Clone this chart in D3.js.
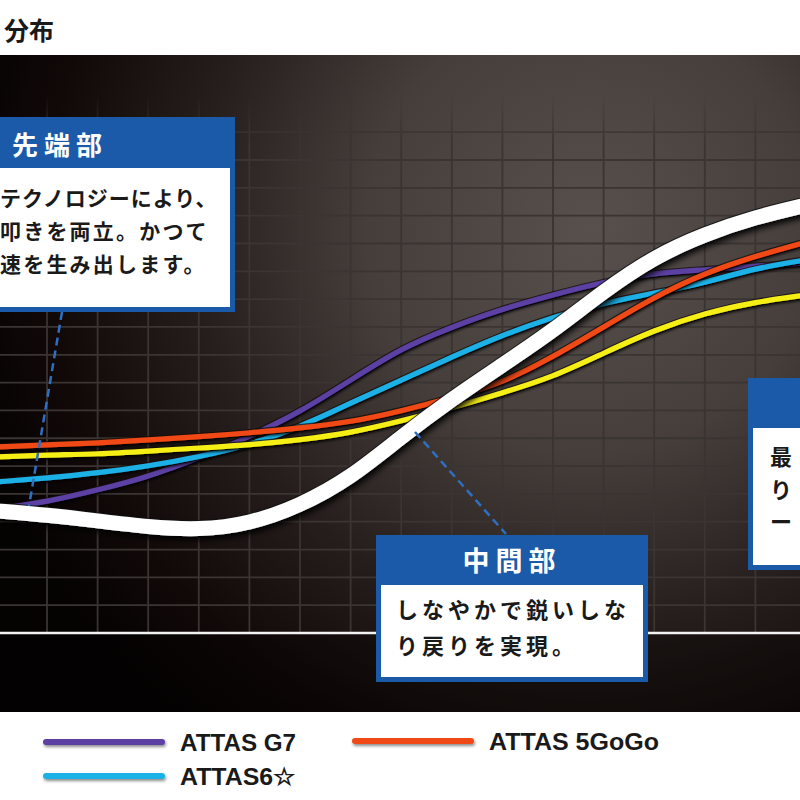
<!DOCTYPE html>
<html><head><meta charset="utf-8">
<script src="https://cdn.jsdelivr.net/npm/d3@7/dist/d3.min.js"></script>
<style>html,body{margin:0;padding:0;background:#fff;}svg{display:block}</style>
</head><body>
<svg id="c" width="800" height="800"></svg>
<script>
// ---- data (grid units; shaft position from tip (left) to butt (right)) ----
const positions = d3.range(0, 17);
const whiteCurve = [4.39,4.24,4.03,3.81,3.70,3.92,4.57,5.57,7.05,8.41,9.63,10.86,12.29,13.52,14.34,14.95,15.38];
const attasG7    = [4.46,4.71,5.14,5.61,6.29,7.05,7.94,9.09,10.24,11.00,11.65,12.15,12.62,12.94,13.05,13.19,13.30];
const attas6     = [5.43,5.57,5.75,6.00,6.33,6.76,7.40,8.27,9.09,9.92,10.71,11.36,11.86,12.22,12.58,13.12,13.41];
const attas5GoGo = [6.69,6.76,6.83,6.94,7.05,7.19,7.37,7.58,7.98,8.45,8.99,9.92,11.00,12.08,12.94,13.55,14.05];
const yellowCurve= [6.33,6.40,6.43,6.54,6.65,6.76,6.94,7.19,7.62,8.09,8.63,9.20,10.06,10.89,11.50,11.90,12.15];
const gridCols = d3.range(1, 16);
const gridRows = d3.range(1, 19);
const legendNames = ["ATTAS G7", "ATTAS 5GoGo", "ATTAS6☆"];
const legendColors = ["#5b3fa3", "#f04a15", "#1fb1e6"];
const chartTitle = "分布";
const tipTitle = "先端部";
const tipLines = ["テクノロジーにより、", "叩きを両立。かつて", "速を生み出します。"];
const midTitle = "中間部";
const midLines = ["しなやかで鋭いしな", "り戻りを実現。"];
const buttLines = ["最", "り", "ー"];

const svg = d3.select("#c");
const defs = svg.append("defs");
const x = d3.scaleLinear([0, 16], [-3.6, 806]);
const y = d3.scaleLinear([0, 18], [633, 132.2]);

// background gradient
const rg = defs.append("radialGradient").attr("id","bg").attr("gradientUnits","userSpaceOnUse")
  .attr("cx",590).attr("cy",230).attr("r",640).attr("fx",590).attr("fy",230);
[[0,"#57504d"],[0.35,"#453e3b"],[0.62,"#261e1c"],[0.85,"#110908"],[1,"#050202"]]
  .forEach(([o,c])=>rg.append("stop").attr("offset",o).attr("stop-color",c));
const mg = defs.append("linearGradient").attr("id","fadeG").attr("gradientUnits","userSpaceOnUse")
  .attr("x1",0).attr("y1",95).attr("x2",0).attr("y2",145);
mg.append("stop").attr("offset",0).attr("stop-color","#000");
mg.append("stop").attr("offset",1).attr("stop-color","#fff");
defs.append("mask").attr("id","gridMask").attr("maskUnits","userSpaceOnUse")
  .attr("x",0).attr("y",0).attr("width",800).attr("height",800)
  .append("rect").attr("x",0).attr("y",0).attr("width",800).attr("height",800).attr("fill","url(#fadeG)");
function shadow(id, dx, dy, sd, op){
  const f = defs.append("filter").attr("id",id).attr("filterUnits","userSpaceOnUse")
    .attr("x",-20).attr("y",-20).attr("width",840).attr("height",840);
  f.append("feDropShadow").attr("dx",dx).attr("dy",dy).attr("stdDeviation",sd)
    .attr("flood-color","#000").attr("flood-opacity",op);
}
shadow("sh",1,2,1.6,0.9);
shadow("shL",1,2,1.5,0.45);
shadow("shW",2,4,3,0.95);

// title
svg.append("text").attr("x",4).attr("y",40).text(chartTitle)
  .attr("font-family","'Noto Sans CJK JP'").attr("font-weight",700).attr("font-size",25).attr("fill","#1a1a1a");

// panel
svg.append("rect").attr("x",0).attr("y",55).attr("width",800).attr("height",657).attr("fill","url(#bg)");
svg.append("rect").attr("x",0).attr("y",y(0)).attr("width",800).attr("height",712-y(0)).attr("fill","#000").attr("opacity",0.3);

// grid
const grid = svg.append("g").attr("mask","url(#gridMask)").attr("stroke","#3a3432").attr("stroke-width",1.8);
grid.selectAll("line.v").data(gridCols).join("line").attr("class","v")
  .attr("x1",d=>x(d)).attr("x2",d=>x(d)).attr("y1",95).attr("y2",y(0));
grid.selectAll("line.h").data(gridRows).join("line").attr("class","h")
  .attr("x1",0).attr("x2",800).attr("y1",d=>y(d)).attr("y2",d=>y(d));

// baseline
svg.append("line").attr("x1",0).attr("x2",800).attr("y1",y(0)).attr("y2",y(0))
  .attr("stroke","#f2f2f2").attr("stroke-width",2.5);

// curves
const line = d3.line().x((d,i)=>x(positions[i])).y(d=>y(d)).curve(d3.curveBasis);
const colored = [
  {v: attasG7, c: "#5b3fa3"},
  {v: attas6, c: "#1fb1e6"},
  {v: yellowCurve, c: "#f6ef17"},
  {v: attas5GoGo, c: "#f04a15"}
];
colored.forEach(s=>{
  svg.append("path").attr("d",line(s.v)).attr("fill","none").attr("stroke","#140c0a")
    .attr("stroke-width",7.5).attr("opacity",0.75);
  svg.append("path").attr("d",line(s.v)).attr("fill","none").attr("stroke",s.c)
    .attr("stroke-width",5.2).attr("filter","url(#sh)");
});
svg.append("path").attr("d",line(whiteCurve)).attr("fill","none").attr("stroke","#111")
  .attr("stroke-width",17).attr("opacity",0.85);
svg.append("path").attr("d",line(whiteCurve)).attr("fill","none").attr("stroke","#ffffff")
  .attr("stroke-width",15).attr("filter","url(#shW)");

// leader lines
const blue = "#1b5aa8";
svg.append("line").attr("x1",62).attr("y1",312).attr("x2",29).attr("y2",506)
  .attr("stroke","#2e6fc0").attr("stroke-width",2.5).attr("stroke-dasharray","8,5");
svg.append("line").attr("x1",415).attr("y1",432).attr("x2",506).attr("y2",534)
  .attr("stroke","#2e6fc0").attr("stroke-width",2.5).attr("stroke-dasharray","8,5");

const jp = "'Noto Sans CJK JP'";
// tip box
svg.append("rect").attr("x",-10).attr("y",117).attr("width",245).attr("height",195).attr("fill",blue);
svg.append("rect").attr("x",-10).attr("y",168).attr("width",240).attr("height",139).attr("fill","#fff");
svg.append("text").attr("x",12).attr("y",155).text(tipTitle).attr("font-family",jp).attr("font-weight",700)
  .attr("font-size",26).attr("letter-spacing",6).attr("fill","#fff");
const tipSp = [1, 2.2, 2.2];
tipLines.forEach((t,i)=>svg.append("text").attr("x",0).attr("y",206+i*33).text(t)
  .attr("font-family",jp).attr("font-weight",700).attr("font-size",21).attr("letter-spacing",tipSp[i]).attr("fill","#1a1a1a"));

// middle box
svg.append("rect").attr("x",376).attr("y",535).attr("width",272).attr("height",147).attr("fill",blue);
svg.append("rect").attr("x",381).attr("y",585).attr("width",262).attr("height",92).attr("fill","#fff");
svg.append("text").attr("x",512).attr("y",571).attr("text-anchor","middle").text(midTitle).attr("font-family",jp)
  .attr("font-weight",700).attr("font-size",27).attr("letter-spacing",6).attr("fill","#fff");
midLines.forEach((t,i)=>svg.append("text").attr("x",396).attr("y",618+i*36).text(t)
  .attr("font-family",jp).attr("font-weight",700).attr("font-size",22).attr("letter-spacing",4).attr("fill","#1a1a1a"));

// right box
svg.append("rect").attr("x",748).attr("y",378).attr("width",70).attr("height",192).attr("fill",blue);
svg.append("rect").attr("x",753).attr("y",428).attr("width",70).attr("height",137).attr("fill","#fff");
buttLines.forEach((t,i)=>svg.append("text").attr("x",770).attr("y",465+i*32.5).text(t)
  .attr("font-family",jp).attr("font-weight",700).attr("font-size",22).attr("fill","#1a1a1a"));

// legend
const legPos = [{x:46,y:742},{x:355,y:741},{x:46,y:776}];
const legW = [116,170,116];
legendNames.forEach((n,i)=>{
  const p = legPos[i];
  svg.append("line").attr("x1",p.x).attr("x2",p.x+116).attr("y1",p.y).attr("y2",p.y)
    .attr("stroke",legendColors[i]).attr("stroke-width",6).attr("stroke-linecap","round")
    .attr("filter","url(#shL)");
  svg.append("text").attr("x",p.x+134).attr("y",p.y+9).text(n)
    .attr("font-family","'Liberation Sans Narrow','Arial Narrow','Liberation Sans',sans-serif")
    .attr("font-weight",700).attr("font-size",24).attr("fill","#1a1a1a")
    .attr("textLength",legW[i]).attr("lengthAdjust","spacingAndGlyphs");
});
</script>
</body></html>
